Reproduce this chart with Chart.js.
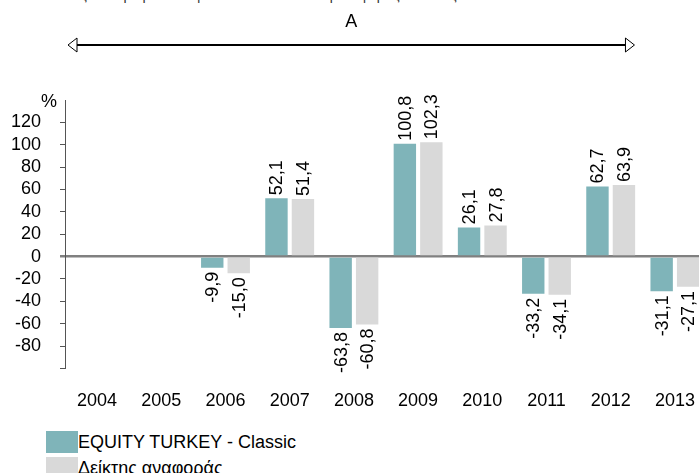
<!DOCTYPE html>
<html>
<head>
<meta charset="utf-8">
<script src="https://cdn.jsdelivr.net/npm/chart.js@4/dist/chart.umd.min.js"></script>
<style>
  html, body { margin: 0; padding: 0; background: #fff; overflow: hidden; }
  body { width: 699px; height: 473px; position: relative; font-family: "Liberation Sans", Arial, sans-serif; }
  #topnote { position: absolute; left: 20px; top: -12px; font-size: 14px; line-height: 14px; color: #333; white-space: nowrap; }
  #chartBox { position: absolute; left: 0; top: 0; }
  #legend { position: absolute; left: 46px; top: 431px; }
  .item { display: flex; align-items: center; height: 22px; margin-bottom: 4px; }
  .swatch { width: 32px; height: 22px; }
  .label { font-size: 18px; color: #000; white-space: nowrap; }
</style>
</head>
<body>
<div id="topnote">Αποδόσεις του αμοιβαίου κεφαλαίου και του δείκτη αναφοράς ανά έτος</div>
<div id="chartBox"><canvas id="chart" width="712" height="426"></canvas></div>
<div id="legend"></div>
<script>
// values, in %
const years = ['2004', '2005', '2006', '2007', '2008', '2009', '2010', '2011', '2012', '2013'];
const fundReturns = [null, null, -9.9, 52.1, -63.8, 100.8, 26.1, -33.2, 62.7, -31.1];
const indexReturns = [null, null, -15.0, 51.4, -60.8, 102.3, 27.8, -34.1, 63.9, -27.1];
const seriesNames = ['EQUITY TURKEY - Classic', 'Δείκτης αναφοράς'];
const seriesColors = ['#7fb4b9', '#d9d9d9'];
const periodLabel = 'A';

const FONT = '"Liberation Sans", Arial, sans-serif';

const fmt = v => v.toFixed(1).replace('.', ',');

// rotated value labels, % unit and the period arrow
const extras = {
  id: 'extras',
  afterDatasetsDraw(chart) {
    const ctx = chart.ctx;
    ctx.save();
    ctx.fillStyle = '#000';
    ctx.font = '18px ' + FONT;
    ctx.textBaseline = 'middle';
    chart.data.datasets.forEach((ds, di) => {
      const meta = chart.getDatasetMeta(di);
      meta.data.forEach((bar, i) => {
        const v = ds.data[i];
        if (v === null) return;
        ctx.save();
        if (v >= 0) {
          ctx.translate(bar.x, bar.y - 3);
          ctx.rotate(-Math.PI / 2);
          ctx.textAlign = 'left';
        } else {
          ctx.translate(bar.x, bar.y + 4);
          ctx.rotate(-Math.PI / 2);
          ctx.textAlign = 'right';
        }
        ctx.fillText(fmt(v), 0, 1);
        ctx.restore();
      });
    });

    const y = chart.scales.y;
    const x = chart.scales.x;
    ctx.textAlign = 'right';
    ctx.fillText('%', 57, y.getPixelForValue(140) + 2);

    // period arrow
    const step = x.getPixelForValue(1) - x.getPixelForValue(0);
    const left = chart.chartArea.left + 3;
    const right = x.getPixelForValue(8) + step * 0.37;
    const ay = 45;
    ctx.strokeStyle = '#000';
    ctx.lineWidth = 2;
    ctx.beginPath();
    ctx.moveTo(left + 8, ay);
    ctx.lineTo(right - 8, ay);
    ctx.stroke();
    ctx.lineWidth = 1;
    ctx.fillStyle = '#fff';
    ctx.beginPath();
    ctx.moveTo(left, ay);
    ctx.lineTo(left + 9, ay - 7);
    ctx.lineTo(left + 9, ay + 7);
    ctx.closePath();
    ctx.fill();
    ctx.stroke();
    ctx.beginPath();
    ctx.moveTo(right, ay);
    ctx.lineTo(right - 9, ay - 7);
    ctx.lineTo(right - 9, ay + 7);
    ctx.closePath();
    ctx.fill();
    ctx.stroke();
    ctx.fillStyle = '#000';
    ctx.textAlign = 'center';
    ctx.fillText(periodLabel, (left + right) / 2, 22);
    ctx.restore();
  }
};

new Chart(document.getElementById('chart'), {
  type: 'bar',
  data: {
    labels: years,
    datasets: [
      { label: seriesNames[0], data: fundReturns, backgroundColor: seriesColors[0] },
      { label: seriesNames[1], data: indexReturns, backgroundColor: seriesColors[1] }
    ]
  },
  options: {
    responsive: false,
    animation: false,
    events: [],
    layout: { padding: { left: 0, top: 100, right: 5, bottom: 0 } },
    datasets: {
      bar: { categoryPercentage: 0.825, barPercentage: 0.846 }
    },
    plugins: {
      legend: { display: false },
      tooltip: { enabled: false }
    },
    scales: {
      x: {
        grid: { display: false },
        border: { display: false },
        ticks: {
          color: '#000',
          font: { family: FONT, size: 18 },
          padding: 14,
          maxRotation: 0,
          autoSkip: false
        }
      },
      y: {
        min: -100,
        max: 140,
        z: 1,
        afterFit: s => { s.width = 65; },
        border: { display: true, color: '#555', width: 1 },
        grid: {
          tickLength: 5,
          color: c => c.tick && c.tick.value === 0 ? '#808080' : 'rgba(0,0,0,0)',
          lineWidth: c => c.tick && c.tick.value === 0 ? 2.5 : 1,
          tickColor: c => {
            if (!c.tick) return '#555';
            if (c.tick.value === 140) return 'rgba(0,0,0,0)';
            return c.tick.value === 0 ? '#808080' : '#555';
          },
          tickWidth: c => c.tick && c.tick.value === 0 ? 2.5 : 1
        },
        ticks: {
          stepSize: 20,
          autoSkip: false,
          color: '#000',
          font: { family: FONT, size: 18 },
          padding: 19,
          callback: v => (v === 140 || v === -100) ? '' : v
        }
      }
    }
  },
  plugins: [extras]
});

const legend = document.getElementById('legend');
seriesNames.forEach((name, i) => {
  const row = document.createElement('div');
  row.className = 'item';
  const sw = document.createElement('span');
  sw.className = 'swatch';
  sw.style.background = seriesColors[i];
  const tx = document.createElement('span');
  tx.className = 'label';
  tx.textContent = name;
  row.appendChild(sw);
  row.appendChild(tx);
  legend.appendChild(row);
});
</script>
</body>
</html>
